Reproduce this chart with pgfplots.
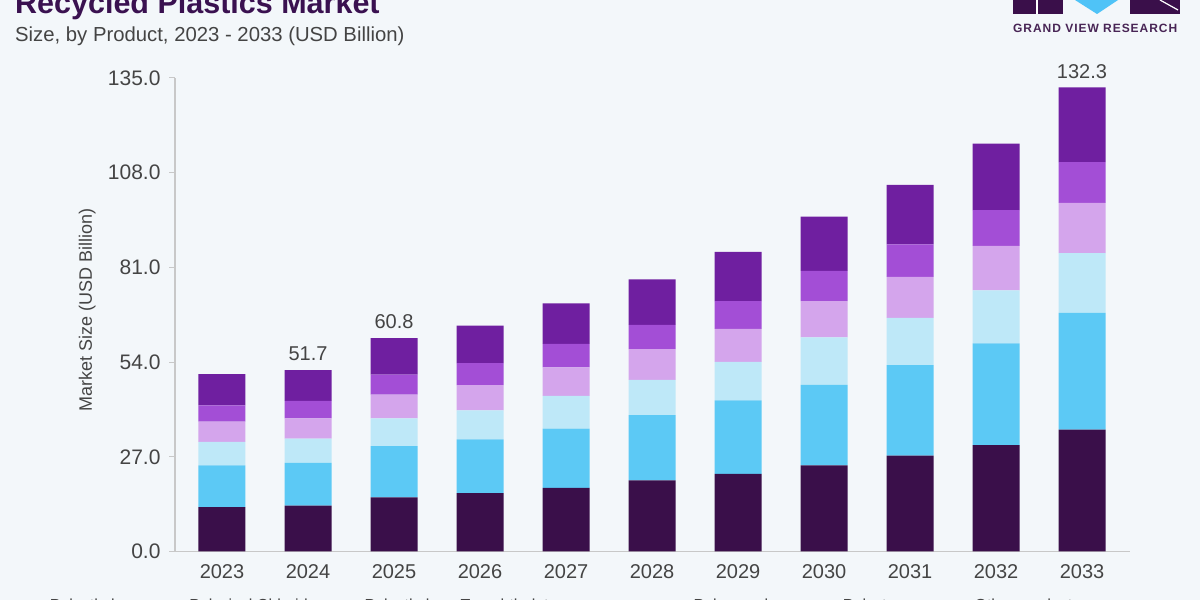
\documentclass[border=0pt]{standalone}
\usepackage{pgfplots}
\pgfplotsset{compat=1.18}
\usepackage{pgfplotstable}
\usepackage{fontspec}
\setmainfont{Liberation Sans}

\definecolor{bgcol}{HTML}{F3F7FA}
\definecolor{segA}{HTML}{3A0F4A}
\definecolor{segB}{HTML}{5CC9F5}
\definecolor{segC}{HTML}{BEE8F8}
\definecolor{segD}{HTML}{D4A5EC}
\definecolor{segE}{HTML}{A34ED6}
\definecolor{segF}{HTML}{6F1FA0}
\definecolor{titlecol}{HTML}{3A1150}
\definecolor{txtcol}{HTML}{444444}
\definecolor{axcol}{HTML}{C8C8C8}
\definecolor{logoblue}{HTML}{4FC3F7}

% Market size by product, USD billion (bottom segment first)
\pgfplotstableread{
x  pe     pvc    pet    pp     ps     oth
0  12.66  11.92  6.70   5.73   4.67   8.88
1  13.08  12.21  6.87   5.78   4.99   8.77
2  15.44  14.61  7.94   6.76   5.67   10.38
3  16.67  15.27  8.31   7.16   6.30   10.69
4  18.11  16.90  9.34   8.14   6.68   11.55
5  20.28  18.62  10.03  8.80   6.88   12.98
6  22.12  21.00  10.97  9.37   7.94   14.04
7  24.58  22.92  13.58  10.31  8.59   15.47
8  27.36  25.79  13.47  11.66  9.25   16.99
9  30.31  29.05  15.07  12.72  10.20  18.91
10 34.76  33.27  17.06  14.34  11.61  21.26
}\datatable

\begin{document}
\begin{tikzpicture}[x=1pt,y=1pt]
\path[use as bounding box] (0,0) rectangle (1200,600);
\clip (0,0) rectangle (1200,600);
\fill[bgcol] (0,0) rectangle (1200,600);

% title block
\node[anchor=base west,inner sep=0,text=titlecol,font=\fontsize{30.5}{36}\selectfont\bfseries] at (15,586) {Recycled Plastics Market};
\node[anchor=base west,inner sep=0,text=txtcol,font=\fontsize{20.3}{24}\selectfont] at (15,558) {Size, by Product, 2023 - 2033 (USD Billion)};

% logo
\fill[segA] (1013,586) rectangle (1063,610);
\draw[white,line width=1.2] (1037,586) -- (1037,610);
\fill[logoblue] (1075,600) -- (1118,600) -- (1097,586) -- cycle;
\fill[segA] (1130,586) rectangle (1180,610);
\draw[white,line width=1.2] (1160,600) -- (1178,590);
\node[anchor=base west,inner sep=0,text=segA!80!gray,font=\fontsize{12}{14}\selectfont\bfseries\addfontfeature{LetterSpace=8}] at (1013,567) {GRAND VIEW RESEARCH};

\begin{axis}[
  at={(175pt,48.5pt)}, anchor=south west,
  scale only axis, width=955pt, height=473.5pt,
  xmin=-0.5465, xmax=10.558, ymin=0, ymax=135,
  ybar stacked, bar width=47pt,
  axis x line=bottom, axis y line=left,
  axis line style={axcol,line width=1.2pt,-},
  xtick=data,
  xticklabels={2023,2024,2025,2026,2027,2028,2029,2030,2031,2032,2033},
  x tick style={draw=none},
  ytick={0,27,54,81,108,135},
  y tick style={axcol,line width=1pt},
  tick align=outside, major tick length=6pt,
  /pgf/number format/assume math mode=true,
  yticklabel style={/pgf/number format/.cd,fixed,fixed zerofill,precision=1,
    /tikz/.cd,xshift=-5pt,font=\fontsize{21}{25}\selectfont},
  xticklabel style={yshift=-4pt,font=\fontsize{20}{24}\selectfont},
  ticklabel style={text=txtcol},
  ylabel={Market Size (USD Billion)},
  every axis y label/.style={at={(axis description cs:-0.092,0.51)},rotate=90,anchor=center,
    text=txtcol,font=\fontsize{18}{22}\selectfont},
  legend style={at={(axis description cs:-0.147,-0.092)},anchor=north west,
    draw=none,fill=none,legend columns=-1,
    font=\fontsize{16}{19}\selectfont,text=txtcol,
    /tikz/every even column/.append style={column sep=34pt}},
  legend image code/.code={\fill[#1] (0pt,-5pt) rectangle (10pt,5pt);},
  clip=false,
]
\addplot[fill=segA,draw=none] table[x=x,y=pe]{\datatable};
\addplot[fill=segB,draw=none] table[x=x,y=pvc]{\datatable};
\addplot[fill=segC,draw=none] table[x=x,y=pet]{\datatable};
\addplot[fill=segD,draw=none] table[x=x,y=pp]{\datatable};
\addplot[fill=segE,draw=none] table[x=x,y=ps]{\datatable};
\addplot[fill=segF,draw=none] table[x=x,y=oth]{\datatable};
\legend{Polyethylene,Polyvinyl Chloride,\makebox[281pt][l]{Polyethylene Terephthalate},Polypropylene,Polystyrene,Other products}
\node[anchor=south,text=txtcol,font=\fontsize{20}{24}\selectfont,inner sep=0] at (axis cs:1,51.7) [yshift=9pt] {51.7};
\node[anchor=south,text=txtcol,font=\fontsize{20}{24}\selectfont,inner sep=0] at (axis cs:2,60.8) [yshift=9pt] {60.8};
\node[anchor=south,text=txtcol,font=\fontsize{20}{24}\selectfont,inner sep=0] at (axis cs:10,132.3) [yshift=9pt] {132.3};
\end{axis}
\end{tikzpicture}
\end{document}
